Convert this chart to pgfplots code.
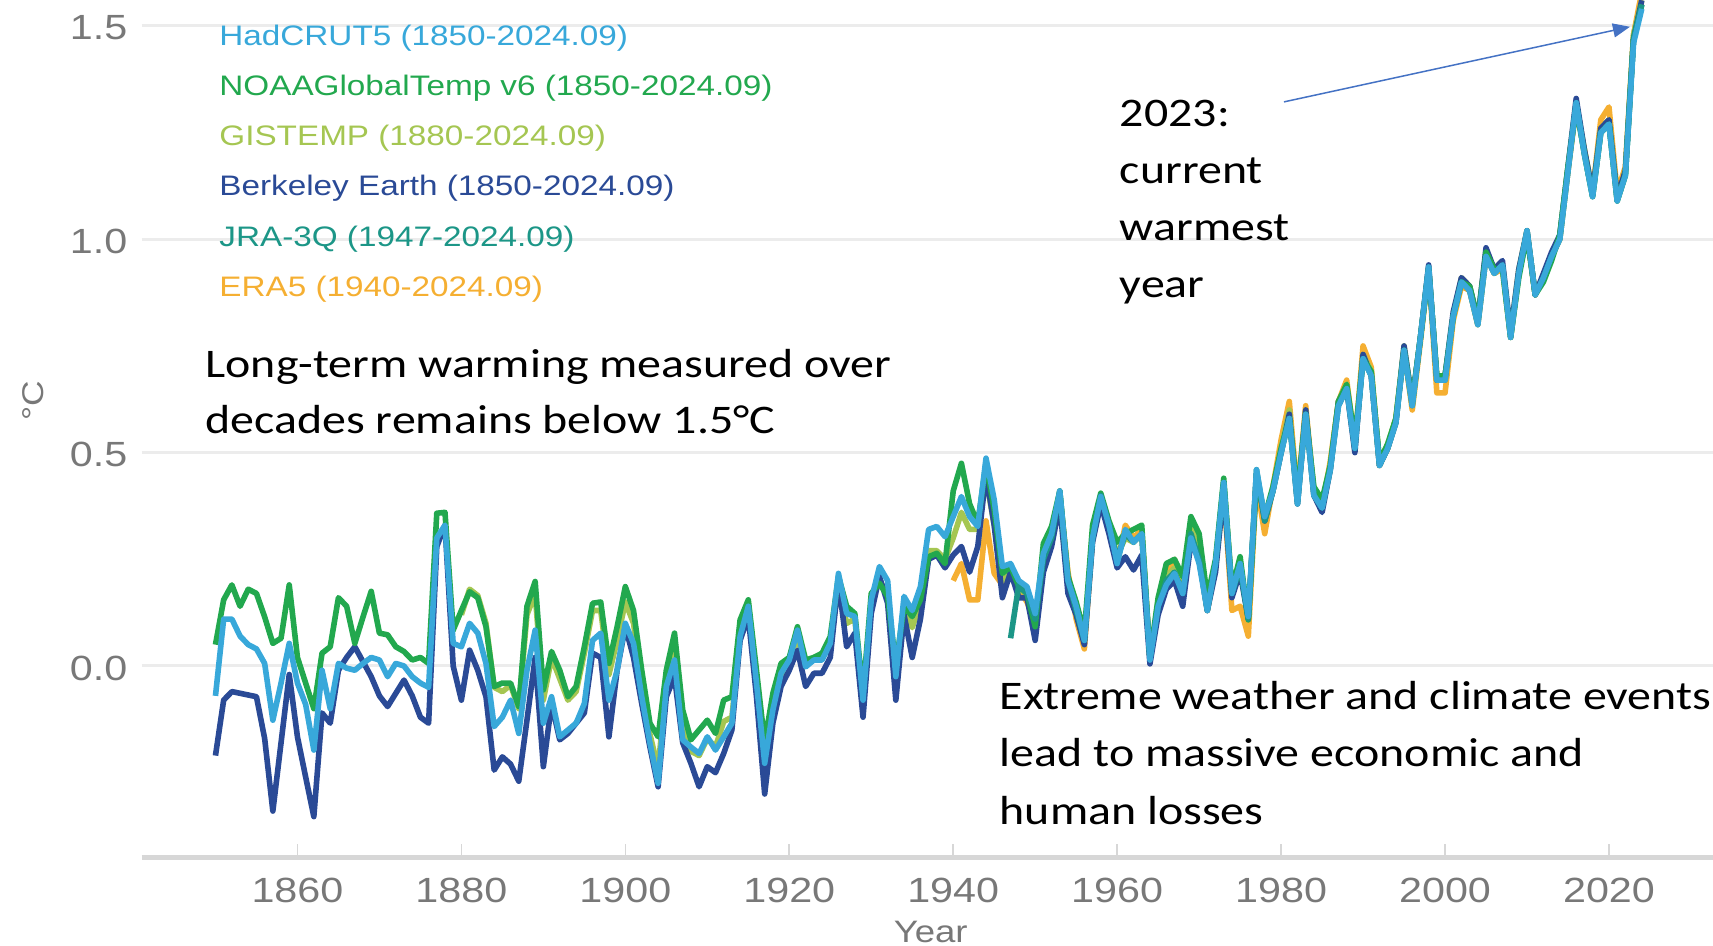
\documentclass[border=0pt]{standalone}
\usepackage{fontspec}
\setmainfont{Carlito}[FakeStretch=1.18]
\newfontfamily\chartfont{Liberation Sans}[FakeStretch=1.18]
\usepackage{pgfplots}
\pgfplotsset{compat=1.18}
\usepackage{pgfplotstable}
\usetikzlibrary{arrows.meta}

\definecolor{had}{RGB}{56,168,218}
\definecolor{noaa}{RGB}{34,168,78}
\definecolor{gis}{RGB}{165,198,82}
\definecolor{berk}{RGB}{42,74,150}
\definecolor{jra}{RGB}{28,150,135}
\definecolor{era}{RGB}{245,175,50}
\definecolor{tickgray}{RGB}{120,120,120}
\definecolor{gridgray}{RGB}{236,236,236}
\definecolor{axisgray}{RGB}{215,215,215}
\definecolor{arrowblue}{RGB}{68,114,196}

\pgfplotstableread{
year had noaa gis berk jra era
1850 -0.07 0.05 nan -0.21 nan nan
1851 0.11 0.155 nan -0.08 nan nan
1852 0.11 0.19 nan -0.06 nan nan
1853 0.07 0.14 nan -0.064 nan nan
1854 0.05 0.18 nan -0.068 nan nan
1855 0.04 0.17 nan -0.072 nan nan
1856 0.006 0.115 nan -0.17 nan nan
1857 -0.127 0.053 nan -0.34 nan nan
1858 -0.04 0.065 nan -0.18 nan nan
1859 0.053 0.19 nan -0.02 nan nan
1860 -0.04 0.02 nan -0.166 nan nan
1861 -0.09 -0.04 nan -0.26 nan nan
1862 -0.197 -0.10 nan -0.353 nan nan
1863 -0.01 0.03 nan -0.11 nan nan
1864 -0.10 0.045 nan -0.134 nan nan
1865 0.006 0.16 nan -0.01 nan nan
1866 -0.005 0.14 nan 0.02 nan nan
1867 -0.01 0.053 nan 0.045 nan nan
1868 0.006 0.115 nan 0.01 nan nan
1869 0.02 0.175 nan -0.025 nan nan
1870 0.014 0.077 nan -0.07 nan nan
1871 -0.025 0.073 nan -0.095 nan nan
1872 0.006 0.045 nan -0.064 nan nan
1873 0.0 0.034 nan -0.033 nan nan
1874 -0.025 0.014 nan -0.07 nan nan
1875 -0.04 0.02 nan -0.12 nan nan
1876 -0.05 0.006 nan -0.134 nan nan
1877 0.30 0.358 nan 0.28 nan nan
1878 0.33 0.36 nan 0.33 nan nan
1879 0.053 0.084 nan 0.0 nan nan
1880 0.045 0.13 0.12 -0.08 nan nan
1881 0.10 0.174 0.18 0.037 nan nan
1882 0.077 0.16 0.165 -0.01 nan nan
1883 0.006 0.092 0.10 -0.072 nan nan
1884 -0.142 -0.048 -0.05 -0.244 nan nan
1885 -0.12 -0.04 -0.06 -0.213 nan nan
1886 -0.08 -0.04 -0.045 -0.23 nan nan
1887 -0.158 -0.095 -0.10 -0.27 nan nan
1888 -0.01 0.14 0.12 -0.127 nan nan
1889 0.084 0.198 0.17 0.02 nan nan
1890 -0.134 -0.056 -0.08 -0.236 nan nan
1891 -0.072 0.034 0.02 -0.088 nan nan
1892 -0.166 -0.01 -0.03 -0.173 nan nan
1893 -0.15 -0.072 -0.08 -0.158 nan nan
1894 -0.134 -0.048 -0.06 -0.134 nan nan
1895 -0.088 0.045 0.03 -0.11 nan nan
1896 0.06 0.147 0.13 0.03 nan nan
1897 0.077 0.15 0.13 0.02 nan nan
1898 -0.08 0.006 -0.02 -0.166 nan nan
1899 -0.01 0.092 0.06 -0.01 nan nan
1900 0.10 0.186 0.15 0.092 nan nan
1901 0.053 0.13 0.10 0.02 nan nan
1902 -0.072 -0.01 -0.04 -0.088 nan nan
1903 -0.18 -0.134 -0.16 -0.19 nan nan
1904 -0.275 -0.166 -0.24 -0.283 nan nan
1905 -0.048 -0.01 -0.04 -0.072 nan nan
1906 0.014 0.077 0.04 -0.025 nan nan
1907 -0.173 -0.103 -0.15 -0.18 nan nan
1908 -0.19 -0.173 -0.20 -0.228 nan nan
1909 -0.205 -0.15 -0.21 -0.283 nan nan
1910 -0.166 -0.127 -0.17 -0.236 nan nan
1911 -0.197 -0.158 -0.19 -0.25 nan nan
1912 -0.166 -0.08 -0.13 -0.205 nan nan
1913 -0.134 -0.072 -0.12 -0.15 nan nan
1914 0.069 0.108 0.07 0.06 nan nan
1915 0.14 0.155 0.14 0.116 nan nan
1916 -0.04 -0.01 -0.05 -0.072 nan nan
1917 -0.228 -0.18 -0.22 -0.30 nan nan
1918 -0.103 -0.064 -0.09 -0.134 nan nan
1919 -0.017 0.006 -0.02 -0.048 nan nan
1920 0.014 0.02 0.01 -0.01 nan nan
1921 0.084 0.092 0.07 0.037 nan nan
1922 -0.002 0.014 0.0 -0.048 nan nan
1923 0.014 0.02 0.02 -0.017 nan nan
1924 0.014 0.03 0.02 -0.017 nan nan
1925 0.053 0.069 0.05 0.02 nan nan
1926 0.217 0.21 0.19 0.20 nan nan
1927 0.123 0.14 0.10 0.045 nan nan
1928 0.116 0.123 0.11 0.077 nan nan
1929 -0.08 -0.064 -0.09 -0.12 nan nan
1930 0.155 0.17 0.15 0.123 nan nan
1931 0.233 0.194 0.20 0.21 nan nan
1932 0.20 0.163 0.17 0.147 nan nan
1933 -0.025 0.0 -0.03 -0.08 nan nan
1934 0.163 0.14 0.14 0.12 nan nan
1935 0.13 0.116 0.09 0.02 nan nan
1936 0.186 0.155 0.15 0.11 nan nan
1937 0.32 0.256 0.27 0.25 nan nan
1938 0.327 0.264 0.27 0.26 nan nan
1939 0.303 0.24 0.25 0.23 nan nan
1940 0.35 0.41 0.30 0.26 nan 0.20
1941 0.397 0.475 0.36 0.28 nan 0.24
1942 0.35 0.38 0.32 0.22 nan 0.155
1943 0.327 0.334 0.32 0.28 nan 0.155
1944 0.487 0.475 0.44 0.45 nan 0.34
1945 0.39 0.366 0.33 0.33 nan 0.217
1946 0.233 0.217 0.20 0.16 nan 0.19
1947 0.24 0.233 0.22 0.22 0.065 0.225
1948 0.20 0.186 0.18 0.16 0.19 0.18
1949 0.186 0.17 0.17 0.16 0.17 0.15
1950 0.123 0.092 0.08 0.06 0.11 0.10
1951 0.264 0.287 0.25 0.22 0.25 0.24
1952 0.31 0.327 0.30 0.28 0.30 0.29
1953 0.41 0.41 0.39 0.38 0.41 0.40
1954 0.20 0.21 0.19 0.17 0.20 0.22
1955 0.14 0.15 0.14 0.12 0.13 0.11
1956 0.06 0.077 0.06 0.05 0.06 0.04
1957 0.30 0.33 0.31 0.29 0.30 0.30
1958 0.397 0.405 0.39 0.38 0.40 0.38
1959 0.33 0.34 0.33 0.31 0.33 0.33
1960 0.24 0.29 0.26 0.23 0.25 0.24
1961 0.32 0.31 0.30 0.256 0.31 0.33
1962 0.29 0.32 0.29 0.225 0.29 0.30
1963 0.31 0.33 0.31 0.26 0.31 0.32
1964 0.014 0.02 0.02 0.005 0.02 0.02
1965 0.14 0.16 0.15 0.12 0.14 0.14
1966 0.19 0.24 0.21 0.18 0.20 0.22
1967 0.217 0.25 0.23 0.20 0.22 0.25
1968 0.17 0.21 0.18 0.14 0.17 0.18
1969 0.30 0.35 0.33 0.29 0.31 0.31
1970 0.24 0.31 0.27 0.25 0.25 0.26
1971 0.13 0.16 0.14 0.13 0.13 0.13
1972 0.24 0.25 0.24 0.22 0.24 0.23
1973 0.43 0.44 0.43 0.41 0.43 0.41
1974 0.17 0.18 0.18 0.16 0.17 0.13
1975 0.24 0.256 0.24 0.22 0.23 0.14
1976 0.116 0.108 0.11 0.11 0.11 0.07
1977 0.46 0.44 0.45 0.45 0.46 0.43
1978 0.35 0.35 0.35 0.34 0.34 0.31
1979 0.41 0.42 0.41 0.41 0.41 0.42
1980 0.50 0.51 0.51 0.50 0.50 0.53
1981 0.58 0.58 0.60 0.59 0.58 0.62
1982 0.38 0.40 0.39 0.38 0.38 0.40
1983 0.59 0.59 0.60 0.60 0.59 0.61
1984 0.40 0.42 0.41 0.40 0.40 0.41
1985 0.37 0.39 0.38 0.36 0.37 0.37
1986 0.46 0.47 0.47 0.46 0.46 0.48
1987 0.61 0.62 0.62 0.62 0.61 0.62
1988 0.65 0.66 0.66 0.65 0.65 0.67
1989 0.51 0.53 0.52 0.50 0.51 0.52
1990 0.72 0.72 0.73 0.73 0.72 0.75
1991 0.68 0.69 0.69 0.68 0.68 0.70
1992 0.47 0.48 0.48 0.47 0.47 0.47
1993 0.51 0.52 0.52 0.51 0.51 0.51
1994 0.57 0.58 0.58 0.57 0.57 0.58
1995 0.74 0.74 0.75 0.75 0.74 0.74
1996 0.61 0.62 0.62 0.62 0.61 0.60
1997 0.77 0.77 0.77 0.77 0.77 0.76
1998 0.935 0.93 0.93 0.94 0.935 0.93
1999 0.67 0.68 0.68 0.67 0.67 0.64
2000 0.67 0.68 0.68 0.68 0.67 0.64
2001 0.82 0.82 0.82 0.83 0.82 0.81
2002 0.90 0.90 0.91 0.91 0.90 0.89
2003 0.88 0.89 0.89 0.89 0.88 0.88
2004 0.80 0.81 0.81 0.81 0.80 0.80
2005 0.96 0.97 0.97 0.98 0.96 0.96
2006 0.92 0.93 0.93 0.93 0.92 0.92
2007 0.94 0.93 0.94 0.95 0.94 0.93
2008 0.77 0.77 0.78 0.78 0.77 0.77
2009 0.92 0.91 0.93 0.93 0.92 0.92
2010 1.02 1.01 1.02 1.02 1.02 1.01
2011 0.87 0.87 0.87 0.87 0.87 0.87
2012 0.91 0.90 0.91 0.92 0.91 0.91
2013 0.96 0.95 0.96 0.97 0.96 0.96
2014 1.00 1.01 1.01 1.01 1.00 1.00
2015 1.16 1.17 1.17 1.17 1.16 1.16
2016 1.32 1.31 1.32 1.33 1.32 1.31
2017 1.20 1.20 1.21 1.21 1.20 1.21
2018 1.10 1.10 1.11 1.11 1.10 1.11
2019 1.25 1.25 1.26 1.26 1.25 1.28
2020 1.27 1.27 1.28 1.28 1.27 1.31
2021 1.09 1.09 1.10 1.10 1.09 1.11
2022 1.15 1.15 1.16 1.16 1.15 1.17
2023 1.46 1.47 1.48 1.47 1.47 1.48
2024 1.54 1.55 1.56 1.56 1.55 1.58
}\tempdata

\begin{document}
\begin{tikzpicture}
\begin{axis}[
  at={(0pt,0pt)}, anchor=south west,
  scale only axis, width=785.65pt, height=428.75pt,
  xmin=1841, xmax=2032.69, ymin=-0.4488, ymax=1.5608,
  axis x line*=bottom, axis y line*=left,
  x axis line style={draw=axisgray, line width=2.4pt},
  y axis line style={draw=none},
  xtick={1860,1880,...,2020},
  ytick={0,0.5,1,1.5},
  ymajorgrids, grid style={draw=gridgray, line width=1.5pt},
  tick align=inside, major tick length=6.5pt,
  xtick style={draw=axisgray, line width=0.8pt},
  ytick style={draw=none},
  /pgf/number format/assume math mode=true,
  /pgf/number format/1000 sep={},
  xticklabel style={anchor=base, yshift=-22.5pt, inner sep=0pt, text=tickgray,
    font=\chartfont\fontsize{17.5}{20}\selectfont},
  yticklabel style={anchor=east, inner sep=0pt, xshift=-7pt, yshift=-1pt, text=tickgray,
    font=\chartfont\fontsize{17.5}{20}\selectfont,
    /pgf/number format/fixed, /pgf/number format/fixed zerofill,
    /pgf/number format/precision=1},
  no markers, unbounded coords=jump,
  every axis plot/.append style={line width=2.8pt, line join=round},
]
\addplot[draw=era] table[x=year, y=era] {\tempdata};
\addplot[draw=gis] table[x=year, y=gis] {\tempdata};
\addplot[draw=berk] table[x=year, y=berk] {\tempdata};
\addplot[draw=noaa] table[x=year, y=noaa] {\tempdata};
\addplot[draw=jra] table[x=year, y=jra] {\tempdata};
\addplot[draw=had] table[x=year, y=had] {\tempdata};
\coordinate (arrA) at (axis cs:1980.35,1.322);
\coordinate (arrB) at (axis cs:2022.56,1.498);
\end{axis}

% arrow annotation
\draw[arrowblue, line width=0.75pt, -{Triangle[length=8.5pt,width=7pt]}] (arrA) -- (arrB);

% legend (coloured text only)
\begin{scope}[every node/.style={anchor=base west, inner sep=0pt, font=\chartfont\fontsize{14.1}{16}\selectfont}]
\node[text=had]  at (38.65pt,406.2pt)  {HadCRUT5 (1850-2024.09)};
\node[text=noaa] at (38.65pt,381.05pt) {NOAAGlobalTemp v6 (1850-2024.09)};
\node[text=gis]  at (38.65pt,355.9pt)  {GISTEMP (1880-2024.09)};
\node[text=berk] at (38.65pt,330.75pt) {Berkeley Earth (1850-2024.09)};
\node[text=jra]  at (38.65pt,305.6pt)  {JRA-3Q (1947-2024.09)};
\node[text=era]  at (38.65pt,280.45pt) {ERA5 (1940-2024.09)};
\end{scope}

% axis labels
\node[anchor=base, inner sep=0pt, text=tickgray, font=\chartfont\fontsize{15.5}{18}\selectfont] at (394.5pt,-42.5pt) {Year};
\node[rotate=90, inner sep=0pt, text=tickgray, font=\chartfont\fontsize{15}{17}\selectfont] at (-54.35pt,228.5pt) {°C};

% annotations
\begin{scope}[every node/.style={anchor=base west, inner sep=0pt, text=black, font=\fontsize{20.3}{24}\selectfont}]
\node at (31.7pt,240pt) {Long-term warming measured over};
\node at (31.7pt,211.8pt) {decades remains below 1.5°C};
\node at (488.9pt,365.5pt) {2023:};
\node at (488.9pt,337pt) {current};
\node at (488.9pt,308.6pt) {warmest};
\node at (488.9pt,280.2pt) {year};
\node at (428.8pt,73.75pt) {Extreme weather and climate events};
\node at (428.8pt,45.25pt) {lead to massive economic and};
\node at (428.8pt,16.25pt) {human losses};
\end{scope}

\pgfresetboundingbox
\useasboundingbox (-70.85pt,-44.25pt) rectangle (785.65pt,428.75pt);
\end{tikzpicture}
\end{document}
